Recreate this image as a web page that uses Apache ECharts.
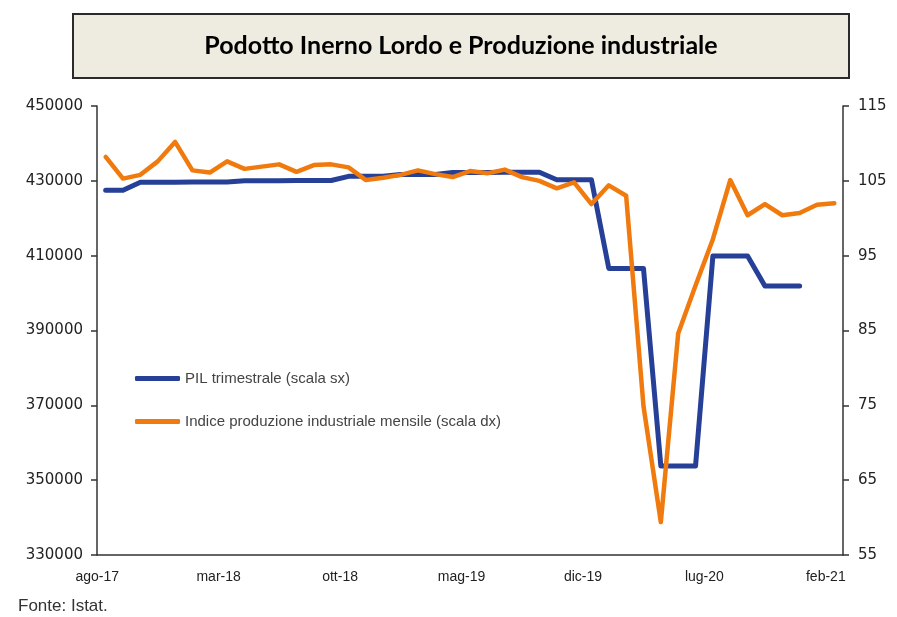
<!DOCTYPE html>
<html>
<head>
<meta charset="utf-8">
<script src="https://cdn.jsdelivr.net/npm/echarts@6/dist/echarts.min.js"></script>
<style>
  html, body { margin: 0; padding: 0; background: #fff; }
  #main { width: 897px; height: 617px; }
</style>
</head>
<body>
<div id="main"></div>
<script>
// mesi (ago-17 ... feb-21)
const months = [
  'ago-17', 'set-17', 'ott-17', 'nov-17', 'dic-17',
  'gen-18', 'feb-18', 'mar-18', 'apr-18', 'mag-18', 'giu-18', 'lug-18', 'ago-18', 'set-18', 'ott-18', 'nov-18', 'dic-18',
  'gen-19', 'feb-19', 'mar-19', 'apr-19', 'mag-19', 'giu-19', 'lug-19', 'ago-19', 'set-19', 'ott-19', 'nov-19', 'dic-19',
  'gen-20', 'feb-20', 'mar-20', 'apr-20', 'mag-20', 'giu-20', 'lug-20', 'ago-20', 'set-20', 'ott-20', 'nov-20', 'dic-20',
  'gen-21', 'feb-21'
]

// PIL trimestrale, ripetuto per ogni mese del trimestre (scala sx)
const pil = [
  427500, 427500,
  429600, 429600, 429600,
  429700, 429700, 429700,
  430000, 430000, 430000,
  430100, 430100, 430100,
  431200, 431200, 431200,
  431700, 431700, 431700,
  432200, 432200, 432200,
  432300, 432300, 432300,
  430300, 430300, 430300,
  406600, 406600, 406600,
  353800, 353800, 353800,
  409900, 409900, 409900,
  401900, 401900, 401900,
  null, null
]

// indice produzione industriale mensile (scala dx)
const ipi = [
  108.2, 105.3, 105.8, 107.6, 110.2,
  106.4, 106.1, 107.6, 106.6, 106.9, 107.2, 106.2, 107.1, 107.2, 106.8, 105.1, 105.4,
  105.8, 106.4, 105.9, 105.5, 106.3, 106.0, 106.5, 105.5, 105.0, 104.0, 104.8, 101.9,
  104.4, 103.0, 74.9, 59.4, 84.6, 91.0, 97.2, 105.1, 100.4, 101.9, 100.4, 100.7,
  101.8, 102.0
]

const titolo = 'Podotto Inerno Lordo e Produzione industriale'
const fonte = 'Fonte: Istat.'
const nomePil = 'PIL trimestrale (scala sx)'
const nomeIpi = 'Indice produzione industriale mensile (scala dx)'

const blu = '#263F97'
const arancio = '#F07A0E'
const assi = '#333333'

const option = {
  animation: false,
  graphic: [
    {
      type: 'rect',
      shape: { x: 73, y: 14, width: 776, height: 64 },
      style: { fill: '#EEEBE0', stroke: '#2b2b2b', lineWidth: 2 },
      z: 0
    },
    {
      type: 'text',
      x: 461,
      y: 46,
      style: {
        text: titolo,
        fill: '#000',
        font: 'bold 25px Lato, "Liberation Sans", sans-serif',
        align: 'center',
        verticalAlign: 'middle'
      },
      z: 1
    },
    {
      type: 'text',
      x: 18,
      y: 606,
      style: {
        text: fonte,
        fill: '#333',
        font: '17px "Liberation Sans", sans-serif',
        align: 'left',
        verticalAlign: 'middle'
      }
    }
  ],
  legend: {
    orient: 'vertical',
    left: 130,
    top: 366,
    itemGap: 28,
    itemWidth: 45,
    itemHeight: 5,
    icon: 'roundRect',
    textStyle: { color: '#444', fontSize: 15, fontFamily: '"Liberation Sans", sans-serif' },
    data: [nomePil, nomeIpi]
  },
  grid: {
    left: 97,
    right: 54,
    top: 106,
    bottom: 62
  },
  xAxis: {
    type: 'category',
    data: months,
    boundaryGap: true,
    axisLine: { lineStyle: { color: assi, width: 1.5 } },
    axisTick: { interval: 6, length: 6, lineStyle: { color: assi, width: 1.5 } },
    axisLabel: {
      interval: 6,
      margin: 15,
      padding: [0, 17, 0, 0],
      color: '#222',
      fontSize: 14,
      fontFamily: '"Liberation Sans", sans-serif'
    },
    splitLine: { show: false }
  },
  yAxis: [
    {
      type: 'value',
      position: 'left',
      min: 330000,
      max: 450000,
      interval: 20000,
      axisLine: { show: true, lineStyle: { color: assi, width: 1.5 } },
      axisTick: { show: true, length: 6, lineStyle: { color: assi, width: 1.5 } },
      axisLabel: {
        margin: 14,
        color: '#222',
        fontSize: 15,
        fontFamily: '"DejaVu Sans", sans-serif',
        formatter: v => String(v)
      },
      splitLine: { show: false }
    },
    {
      type: 'value',
      position: 'right',
      min: 55,
      max: 115,
      interval: 10,
      axisLine: { show: true, lineStyle: { color: assi, width: 1.5 } },
      axisTick: { show: true, length: 6, lineStyle: { color: assi, width: 1.5 } },
      axisLabel: { margin: 15, color: '#222', fontSize: 15, fontFamily: '"DejaVu Sans", sans-serif' },
      splitLine: { show: false }
    }
  ],
  series: [
    {
      name: nomePil,
      type: 'line',
      yAxisIndex: 0,
      data: pil,
      showSymbol: false,
      color: blu,
      lineStyle: { color: blu, width: 5, cap: 'round', join: 'round' },
      z: 2
    },
    {
      name: nomeIpi,
      type: 'line',
      yAxisIndex: 1,
      data: ipi,
      showSymbol: false,
      color: arancio,
      lineStyle: { color: arancio, width: 4.5, cap: 'round', join: 'round' },
      z: 3
    }
  ]
}

const myChart = echarts.init(document.getElementById('main'))
myChart.setOption(option)
</script>
</body>
</html>
